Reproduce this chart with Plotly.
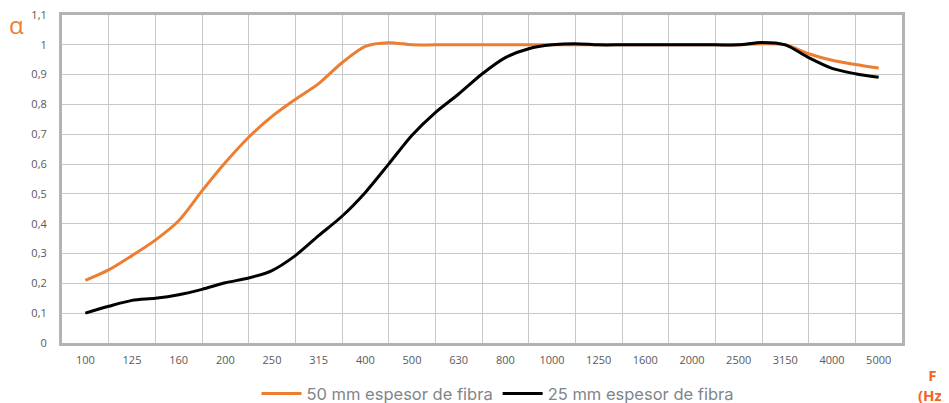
import plotly.graph_objects as go

categories = ["100", "125", "160", "200", "250", "315", "400", "500", "630", "800",
              "1000", "1250", "1600", "2000", "2500", "3150", "4000", "5000"]

# sample positions (category index, in half steps)
positions = [i * 0.5 for i in range(35)]

alpha_50mm = [0.21, 0.245, 0.293, 0.345, 0.41, 0.51, 0.605, 0.69, 0.76, 0.817,
              0.87, 0.94, 0.995, 1.007, 1.0, 1.0, 1.0, 1.0, 1.0, 1.0,
              1.0, 1.0, 1.0, 1.0, 1.0, 1.0, 1.0, 1.0, 1.0, 1.004,
              1.0, 0.97, 0.948, 0.934, 0.922]

alpha_25mm = [0.10, 0.123, 0.143, 0.150, 0.162, 0.18, 0.202, 0.218, 0.243, 0.293,
              0.36, 0.425, 0.505, 0.60, 0.697, 0.773, 0.835, 0.902, 0.957, 0.987,
              1.0, 1.004, 1.0, 1.0, 1.0, 1.0, 1.0, 1.0, 1.0, 1.008,
              1.0, 0.957, 0.921, 0.903, 0.891]

series_names = ["50 mm espesor de fibra", "25 mm espesor de fibra"]
y_ticks = [0, 0.1, 0.2, 0.3, 0.4, 0.5, 0.6, 0.7, 0.8, 0.9, 1.0, 1.1]

fig = go.Figure()
fig.add_trace(go.Scatter(x=positions, y=alpha_50mm, mode="lines", name=series_names[0],
                         line=dict(color="#ED7D31", width=3, shape="spline", smoothing=0.8)))
fig.add_trace(go.Scatter(x=positions, y=alpha_25mm, mode="lines", name=series_names[1],
                         line=dict(color="#000000", width=3, shape="spline", smoothing=0.8)))

frame = "#b5b2b2"
grid = "#c8c8c8"
# page body has an 8px default margin: figure sized/margined to compensate
fig.update_layout(
    width=941, height=395,
    margin=dict(l=54, r=47, t=7, b=60, autoexpand=False),
    paper_bgcolor="white", plot_bgcolor="white",
    separators=", ",
    font=dict(family="Open Sans", color="#595959", size=11),
    legend=dict(orientation="h", x=0.519, xanchor="center", y=-0.155, yanchor="middle",
                font=dict(family="Inter", size=16.5, color="#7f868a"),
                itemwidth=40, tracegroupgap=0),
    showlegend=True,
    xaxis=dict(range=[-0.5, 17.5], tickvals=list(range(len(categories))), ticktext=categories,
               showgrid=False, zeroline=False, showline=True, mirror=True,
               linecolor=frame, linewidth=3, ticks="", ticklabelstandoff=5,
               ticklabeloverflow="allow",
               tickfont=dict(size=11, color="#595959"),
               minor=dict(tickvals=[i + 0.5 for i in range(len(categories) - 1)],
                          showgrid=True, gridcolor=grid, gridwidth=1.3, ticks="")),
    yaxis=dict(range=[0, 1.1], tickvals=y_ticks, showgrid=True, gridcolor=grid, gridwidth=1.3,
               zeroline=False, showline=True, mirror=True, linecolor=frame, linewidth=3,
               ticks="", ticklabelstandoff=10, ticklabeloverflow="allow",
               tickfont=dict(size=11, color="#595959")),
    annotations=[
        dict(text="α", xref="paper", yref="paper", x=-0.0536, y=0.972, showarrow=False,
             xanchor="center", yanchor="middle", font=dict(size=24, color="#ED7D31", family="Open Sans")),
        dict(text="<b>F</b><br><b>(Hz)</b>", xref="paper", yref="paper", x=1.036, y=-0.128,
             showarrow=False, xanchor="center", yanchor="middle", align="center",
             font=dict(size=15, color="#F26522", family="Open Sans")),
    ],
)

fig.write_html("out.html")
